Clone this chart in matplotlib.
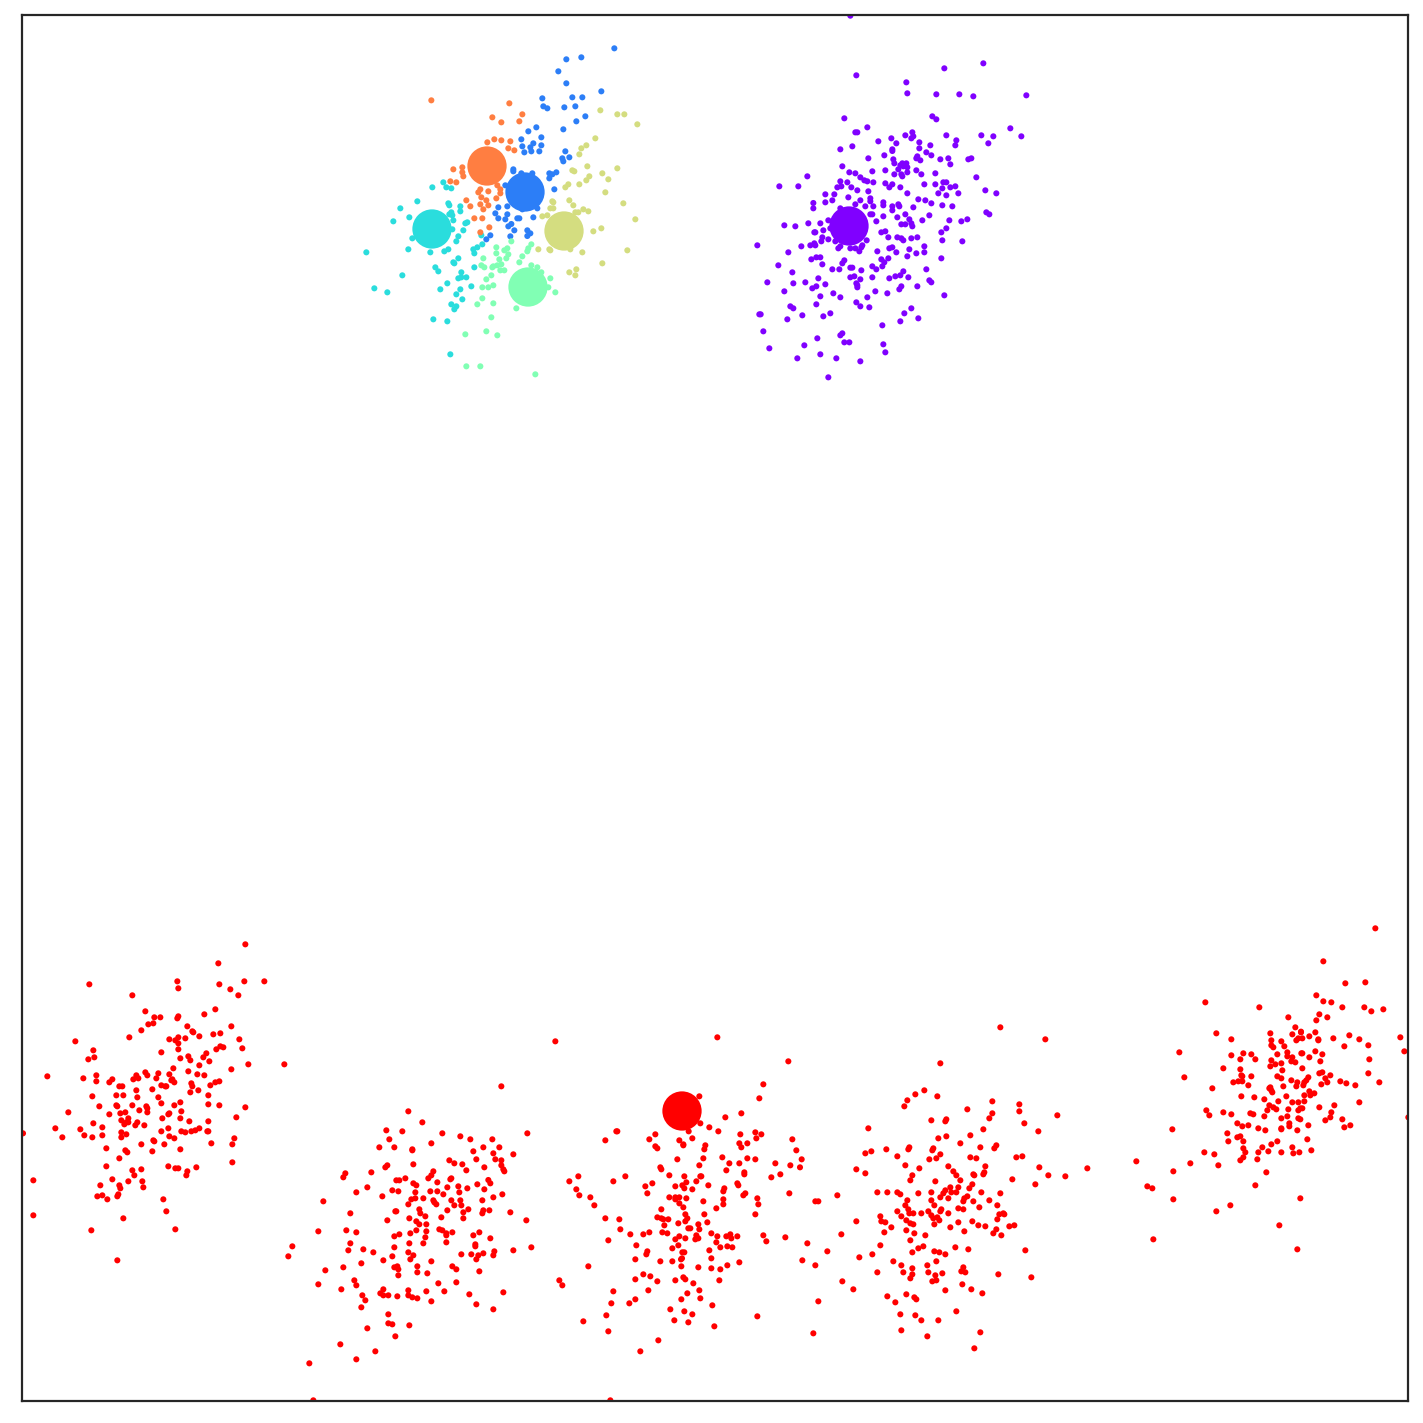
import numpy as np
import matplotlib
matplotlib.use('Agg')
import matplotlib.pyplot as plt

# points, per region as (x, y) at 3x of that region
blue_pts = [(793,55),(649,88),(694,82),(625,124),(649,160),(754,184),(577,205),(667,202),(697,202),(580,229),(592,235),(643,232),(676,229),(706,259),(679,274),(640,298),(559,292),(535,304),(514,328),(574,322),(517,349),(550,340),(541,352),(574,346),(523,367),(544,364),(568,364),(646,364),(658,382),(637,385),(640,394),(490,418),(490,424),(598,430),(619,427),(607,433),(598,445),(613,478),(466,466),(514,430),(547,430),(445,532),(472,529),(436,550),(445,565),(472,553),(466,568),(502,565),(508,565),(550,562),(562,535),(517,538),(484,582),(475,589),(493,601),(532,601),(541,610),(532,618),(481,619),(421,616),(409,628)]
orange_pts = [(244,211),(478,220),(517,253),(427,262),(454,277),(508,274),(412,337),(433,328),(454,331),(481,334),(475,355),(493,361),(310,418),(337,412),(337,427),(340,439),(301,454),(319,457),(442,466),(391,478),(385,487),(415,484),(451,478),(451,490),(394,502),(409,511),(439,505),(349,511),(361,529),(391,523),(415,526),(400,538),(373,565),(397,565),(418,592),(391,607)]
cyan_pts = [(247,472),(280,457),(289,472),(304,475),(202,514),(151,535),(178,562),(130,574),(295,520),(298,526),(331,529),(331,544),(304,547),(298,553),(307,556),(310,571),(352,577),(346,580),(340,601),(307,598),(325,619),(319,634),(187,625),(175,658),(241,667),(283,664),(295,658),(49,667),(397,643),(382,652),(370,658),(373,670),(325,685),(310,697),(313,700),(256,712),(265,724),(373,712),(334,727),(334,742),(325,745),(349,742),(157,736),(73,775),(112,787),(292,760),(271,778),(364,769),(331,778),(319,793),(337,808),(304,823),(319,829),(313,838),(250,868),(292,874),(301,973),(394,616)]
green_pts = [(484,634),(544,643),(439,652),(472,655),(463,661),(535,655),(532,664),(439,670),(475,673),(469,685),(517,679),(400,685),(448,688),(508,697),(442,706),(454,703),(430,709),(427,712),(394,706),(403,712),(451,721),(463,721),(544,706),(562,712),(574,727),(424,736),(409,748),(601,745),(397,772),(415,772),(430,766),(595,772),(616,787),(397,805),(382,823),(430,820),(499,835),(424,862),(409,904),(346,913),(442,916),(349,1009),(391,1009),(556,1033)]
yellow_pts = [(751,241),(802,253),(823,253),(862,283),(736,325),(709,346),(694,355),(688,373),(712,409),(802,415),(667,421),(673,424),(757,430),(718,439),(709,451),(775,448),(688,463),(655,463),(646,472),(766,487),(607,514),(610,517),(658,511),(670,526),(820,520),(601,535),(610,535),(700,538),(715,544),(676,547),(685,547),(592,556),(577,559),(856,568),(754,595),(730,604),(565,658),(598,658),(601,661),(661,658),(697,667),(832,661),(757,700),(679,718),(658,727),(676,736)]
purple_pts = [(331,17),(349,196),(730,160),(613,175),(499,217),(502,250),(589,253),(658,253),(700,259),(859,256),(313,325),(577,319),(589,328),(382,352),(346,367),(352,367),(811,355),(844,379),(724,376),(760,379),(517,367),(496,376),(514,385),(520,379),(454,385),(619,376),(415,394),(469,400),(538,397),(649,391),(646,406),(745,400),(571,406),(337,409),(301,418),(457,418),(457,423),(538,415),(559,427),(574,436),(433,436),(385,445),(460,448),(463,460),(529,445),(532,439),(541,451),(601,448),(625,445),(631,463),(685,448),(694,445),(487,460),(499,460),(481,466),(490,469),(502,472),(475,478),(307,469),(436,481),(397,484),(328,487),(346,490),(463,493),(484,493),(487,499),(502,487),(529,481),(544,493),(586,490),(202,499),(709,502),(361,502),(373,511),(382,514),(400,517),(301,514),(322,517),(436,520),(457,523),(448,532),(481,532),(553,523),(586,523),(610,517),(619,517),(646,529),(631,532),(607,535),(118,529),(175,529),(292,532),(304,529),(334,532),(352,541),(385,544),(502,550),(595,550),(619,556),(655,550),(736,541),(769,550),(256,553),(283,553),(325,562),(391,565),(391,574),(361,571),(277,571),(256,577),(220,579),(220,595),(346,583),(376,589),(400,589),(430,577),(430,586),(457,589),(475,583),(478,589),(535,568),(556,571),(574,580),(607,586),(637,589),(520,592),(457,601),(301,595),(391,613),(397,613),(496,613),(472,622),(430,619),(568,616),(739,607),(748,613),(508,628),(547,631),(628,631),(664,634),(682,628),(265,631),(241,640),(205,640),(133,646),(166,649),(409,634),(484,643),(496,643),(514,640),(517,649),(619,655),(604,667),(250,661),(271,655),(223,667),(226,667),(424,667),(436,664),(445,682),(472,682),(484,685),(490,691),(514,685),(532,682),(607,691),(667,694),(247,682),(244,694),(265,688),(286,694),(380,691),(52,706),(184,709),(211,706),(223,700),(226,706),(295,715),(301,709),(331,715),(346,715),(358,724),(367,706),(364,712),(412,724),(448,715),(457,712),(469,727),(508,718),(529,730),(553,709),(553,727),(145,727),(214,748),(229,742),(241,742),(502,739),(604,745),(445,745),(424,748),(433,757),(313,751),(307,760),(247,763),(115,766),(427,769),(397,769),(409,778),(277,778),(298,778),(331,773),(337,773),(364,781),(559,778),(157,787),(490,784),(481,796),(466,799),(448,805),(505,802),(397,802),(331,802),(343,799),(361,808),(235,805),(196,817),(82,817),(160,820),(256,823),(229,829),(217,835),(349,820),(352,826),(352,832),(568,811),(574,817),(532,829),(484,829),(478,838),(133,844),(406,844),(442,850),(280,850),(241,859),(301,862),(382,862),(613,856),(349,877),(229,883),(361,889),(388,892),(151,889),(160,895),(514,895),(493,910),(58,913),(62,913),(187,916),(271,910),(250,919),(142,928),(535,925),(481,934),(427,946),(70,964),(307,970),(301,976),(232,985),(313,997),(328,997),(88,1015),(193,1006),(430,1003),(436,1027),(241,1033),(172,1045),(289,1045),(361,1054),(265,1102)]
red_a = [(691,43),(610,100),(223,163),(487,154),(490,175),(613,163),(688,154),(748,154),(646,178),(670,196),(352,196),(391,244),(601,238),(568,253),(418,262),(436,262),(490,259),(487,265),(400,283),(415,280),(517,289),(649,289),(379,301),(532,304),(535,307),(595,313),(616,310),(553,319),(343,322),(463,328),(490,322),(481,331),(490,340),(511,325),(673,328),(181,334),(235,361),(490,358),(604,358),(616,349),(625,352),(682,355),(439,367),(574,370),(238,382),(220,388),(496,385),(520,379),(526,391),(565,382),(583,394),(553,406),(700,403),(808,403),(475,415),(649,418),(520,424),(391,427),(397,436),(430,430),(463,433),(547,433),(568,436),(97,439),(205,445),(244,436),(244,454),(364,436),(355,448),(370,445),(424,445),(292,448),(283,457),(469,451),(472,448),(478,457),(529,460),(532,469),(586,466),(601,457),(613,454),(313,469),(322,469),(439,466),(451,469),(454,469),(364,481),(412,478),(550,481),(526,487),(304,496),(325,496),(367,502),(430,502),(232,499),(580,496),(439,520),(496,517),(580,523),(613,526),(691,532),(253,529),(304,526),(307,529),(352,526),(394,529),(397,535),(397,547),(478,526),(373,541),(499,544),(160,547),(283,553),(316,550),(331,547),(463,550),(460,553),(664,562),(340,565),(442,565),(496,565),(319,571),(334,577),(340,577),(328,583),(367,577),(361,586),(388,586),(235,580),(523,574),(580,574),(262,592),(121,595),(196,598),(460,595),(439,604),(499,604),(511,607),(529,604),(541,601),(553,595),(577,604),(580,604),(24,610),(319,607),(334,613),(208,616),(262,616),(142,622),(232,622),(319,622),(463,619),(478,625),(658,625),(415,631),(418,634),(379,643),(448,643),(589,640),(652,643),(274,655),(496,658),(331,661),(337,667),(412,664),(313,685),(652,697),(274,709),(460,709),(481,715),(490,715),(544,712),(352,721),(379,718),(517,724),(514,736),(358,736),(292,748),(340,754),(382,754),(55,751),(256,766),(313,766),(316,775),(385,772),(247,799),(262,796),(277,808),(310,793),(307,799),(445,808),(454,844),(55,856),(325,865),(229,901),(481,898),(307,991)]
red_b = [(664,19),(385,94),(427,127),(319,151),(367,154),(487,160),(742,160),(541,169),(571,178),(637,178),(328,178),(454,190),(298,202),(343,202),(397,208),(397,211),(610,202),(658,202),(580,214),(640,220),(700,223),(589,238),(646,238),(508,241),(664,241),(523,250),(547,253),(400,253),(664,256),(322,256),(316,262),(613,262),(670,268),(673,274),(559,271),(460,274),(274,277),(196,280),(190,292),(454,286),(445,295),(376,295),(514,295),(511,298),(349,301),(358,301),(625,300),(631,310),(472,307),(400,310),(409,316),(592,313),(262,322),(502,322),(535,319),(562,325),(613,328),(337,331),(355,334),(229,337),(406,337),(451,334),(472,334),(490,343),(538,337),(667,343),(307,349),(640,352),(394,358),(406,355),(430,355),(460,361),(514,361),(541,361),(607,361),(130,364),(463,367),(469,373),(385,373),(523,376),(544,376),(565,388),(418,388),(502,391),(610,391),(628,391),(421,400),(607,400),(550,397),(691,397),(211,400),(346,394),(349,394),(436,409),(388,415),(484,412),(550,415),(322,421),(739,421),(409,424),(418,433),(439,433),(199,451),(115,454),(229,457),(409,451),(439,454),(478,448),(487,451),(517,457),(598,457),(499,460),(499,466),(391,460),(358,463),(343,469),(436,472),(580,466),(631,475),(211,490),(388,490),(430,490),(499,487),(586,493),(586,499),(343,502),(37,499),(250,508),(205,511),(700,511),(754,502),(643,514),(640,526),(280,517),(385,517),(544,523),(574,523),(595,526),(610,520),(400,526),(25,529),(337,529),(589,538),(310,541),(391,538),(454,544),(244,550),(190,562),(343,562),(352,559),(355,568),(412,559),(517,559),(529,568),(136,571),(598,574),(412,577),(442,580),(355,586),(223,601),(475,610),(529,607),(115,613),(229,616),(184,628),(310,628),(385,631),(439,634),(493,634),(670,637),(301,640),(310,646),(325,646),(247,646),(352,649),(385,646),(397,652),(412,655),(568,643),(256,661),(454,664),(589,673),(244,682),(640,688),(325,703),(325,730),(337,733),(388,736),(262,745),(346,769),(181,793),(286,814),(229,838),(88,850),(100,961)]
red_c = [(31,34),(517,22),(730,94),(655,163),(643,205),(463,199),(589,250),(541,262),(466,280),(493,292),(431,304),(520,304),(214,304),(217,304),(181,331),(331,313),(313,328),(403,331),(442,325),(586,313),(631,307),(649,313),(634,325),(742,328),(415,343),(415,346),(481,346),(478,358),(583,340),(607,340),(589,352),(331,349),(337,355),(754,361),(397,388),(475,385),(532,382),(607,385),(631,388),(553,400),(583,400),(691,400),(736,406),(463,406),(346,412),(349,418),(544,421),(598,427),(598,433),(373,436),(418,439),(466,439),(469,439),(706,433),(679,442),(100,439),(241,439),(73,454),(205,454),(424,457),(454,454),(322,460),(301,469),(391,469),(412,466),(490,466),(577,460),(580,466),(418,475),(442,478),(538,475),(535,484),(94,478),(307,490),(601,490),(595,496),(733,490),(103,496),(136,502),(373,502),(391,502),(391,508),(403,502),(424,505),(535,508),(637,505),(403,520),(475,514),(535,523),(640,523),(148,526),(415,532),(514,535),(349,538),(421,553),(478,553),(631,553),(337,562),(349,565),(355,568),(370,568),(427,565),(421,574),(181,565),(223,568),(400,580),(487,577),(358,586),(460,583),(430,595),(436,595),(463,598),(226,598),(313,607),(352,607),(367,610),(256,613),(295,613),(499,610),(454,616),(403,619),(391,628),(421,625),(451,628),(460,625),(517,619),(544,619),(556,613),(559,625),(577,619),(655,616),(721,622),(190,631),(514,637),(664,634),(274,646),(400,646),(526,652),(547,649),(562,652),(382,655),(493,661),(307,664),(304,673),(412,667),(418,667),(271,688),(499,685),(411,685),(408,688),(346,694),(382,694),(583,697),(130,709),(409,709),(460,712),(499,715),(526,718),(547,706),(295,733),(316,739),(271,748),(415,742),(421,748),(391,751),(337,754),(523,751),(43,751),(445,760),(52,766),(310,781),(463,781),(205,784),(427,790),(271,808),(409,808),(466,805),(199,820),(253,820),(502,826),(376,838),(418,844),(442,853),(184,856),(637,859),(115,874),(388,871),(430,877),(508,889),(190,904),(340,931),(286,964),(196,1111)]
red_d = [(601,22),(736,58),(421,130),(373,211),(346,223),(412,229),(322,241),(577,244),(658,253),(313,259),(502,268),(658,274),(577,280),(772,286),(568,295),(394,301),(439,298),(436,304),(673,310),(205,325),(550,328),(715,334),(511,346),(439,349),(415,355),(481,370),(589,376),(583,385),(541,382),(328,382),(325,388),(400,385),(397,391),(259,388),(196,400),(214,394),(421,403),(292,409),(409,415),(388,418),(511,412),(529,415),(649,412),(667,409),(5,418),(316,436),(445,439),(556,439),(718,442),(0,442),(358,445),(169,448),(460,454),(196,460),(337,466),(469,466),(520,463),(523,466),(553,457),(550,463),(745,466),(796,469),(862,445),(331,481),(481,481),(637,478),(406,484),(517,493),(706,493),(451,502),(475,502),(508,505),(436,511),(430,520),(232,517),(262,517),(292,517),(301,523),(355,520),(394,517),(454,517),(469,517),(544,517),(601,520),(421,532),(445,535),(502,529),(112,526),(322,541),(394,541),(493,535),(490,544),(520,544),(568,541),(46,544),(55,544),(316,556),(403,556),(592,556),(325,568),(424,568),(475,565),(490,568),(538,562),(292,574),(328,580),(340,580),(364,580),(385,574),(421,574),(445,580),(598,583),(613,583),(610,580),(241,589),(304,589),(394,586),(400,595),(412,592),(592,598),(418,601),(244,604),(256,607),(319,601),(331,610),(340,613),(169,604),(475,607),(517,604),(403,613),(535,616),(556,619),(628,619),(643,616),(274,622),(451,622),(319,631),(589,628),(493,634),(253,637),(343,640),(580,640),(604,646),(124,643),(376,646),(331,661),(22,670),(241,676),(370,679),(355,685),(466,682),(505,688),(403,694),(418,697),(337,697),(436,703),(676,691),(82,694),(217,703),(178,712),(7,721),(280,724),(409,724),(46,736),(304,736),(382,736),(490,742),(337,745),(232,757),(310,757),(385,757),(427,760),(484,754),(496,757),(337,763),(406,766),(331,775),(595,763),(694,772),(127,784),(397,784),(409,781),(487,793),(160,808),(436,811),(514,808),(547,820),(262,829),(319,823),(343,832),(349,838),(286,847),(55,844),(301,883),(346,886),(469,874),(364,901),(415,901),(304,931),(541,937),(40,940),(382,949),(523,985)]
red_e = [(736,25),(580,124),(646,190),(706,187),(559,226),(226,247),(580,244),(604,247),(388,262),(637,262),(703,262),(724,274),(760,268),(568,283),(592,292),(475,292),(559,301),(496,322),(421,340),(259,340),(487,343),(513,335),(513,337),(556,337),(538,349),(658,346),(304,358),(424,361),(454,364),(499,361),(505,355),(517,355),(565,358),(565,361),(610,355),(688,358),(811,352),(424,376),(430,382),(463,379),(643,379),(715,376),(148,397),(340,400),(364,403),(304,406),(442,403),(472,397),(472,409),(514,400),(517,400),(556,394),(577,403),(823,394),(331,418),(376,418),(424,421),(487,412),(484,424),(496,427),(538,412),(571,424),(718,418),(436,433),(454,430),(421,439),(280,445),(331,448),(517,445),(457,451),(568,460),(577,457),(601,466),(715,460),(334,466),(337,469),(364,469),(442,469),(454,475),(535,472),(163,472),(586,475),(310,487),(325,484),(337,484),(484,481),(529,481),(523,487),(592,487),(631,484),(649,490),(676,496),(748,487),(355,496),(502,487),(499,499),(520,496),(574,493),(460,499),(247,505),(418,505),(421,502),(424,511),(427,517),(538,514),(541,526),(553,520),(334,529),(373,532),(469,529),(523,526),(403,538),(445,544),(487,547),(505,547),(523,544),(688,547),(418,556),(430,562),(439,568),(568,562),(613,556),(412,571),(475,568),(505,571),(511,565),(517,565),(229,571),(280,577),(304,583),(361,580),(370,583),(604,577),(238,586),(403,589),(472,589),(454,595),(505,595),(511,598),(601,592),(586,601),(637,598),(835,592),(322,610),(337,619),(355,616),(478,610),(478,619),(535,616),(661,616),(643,622),(385,625),(406,631),(454,625),(454,628),(502,631),(127,628),(292,640),(322,652),(331,649),(295,664),(340,664),(442,664),(532,658),(424,673),(397,682),(340,685),(487,682),(544,691),(223,697),(253,703),(346,697),(385,697),(415,694),(454,697),(490,700),(508,697),(340,712),(331,721),(382,718),(19,724),(181,730),(265,736),(130,754),(409,757),(376,796),(52,799),(67,805),(130,838),(511,835),(301,856),(259,874),(448,916),(70,958),(502,988)]

# cluster centres, one per colour
center_x = [849, 525, 432, 528, 564, 487, 682]
center_y = [226, 192, 229, 287, 231, 166, 1111]

def to_plot(pts, x0, y0):
    a = np.array(pts, dtype=float)
    return a[:, 0] / 3 + x0, a[:, 1] / 3 + y0

groups = [
    (0, purple_pts, 740, 10),
    (1, blue_pts, 350, 30),
    (2, cyan_pts, 350, 30),
    (3, green_pts, 350, 30),
    (4, yellow_pts, 350, 30),
    (5, orange_pts, 350, 30),
    (6, red_a, 15, 930),
    (6, red_b, 280, 1080),
    (6, red_c, 545, 1030),
    (6, red_d, 800, 1020),
    (6, red_e, 1130, 920),
]

fig = plt.figure(figsize=(1423 / 200, 1423 / 200), dpi=200)
ax = fig.add_axes([22 / 1423, 1 - 1401 / 1423, 1386 / 1423, 1386 / 1423])

for label, pts, x0, y0 in groups:
    xs, ys = to_plot(pts, x0, y0)
    ax.scatter(xs, ys, c=[label] * len(xs), cmap='rainbow', vmin=0, vmax=6, s=4.8, linewidths=0)

ax.scatter(center_x, center_y, c=range(7), cmap='rainbow', vmin=0, vmax=6, s=200, linewidths=0)

ax.set_xlim(22, 1408)
ax.set_ylim(1401, 15)
ax.set_xticks([])
ax.set_yticks([])
for s in ax.spines.values():
    s.set_color('#262626')
    s.set_linewidth(0.8)

fig.savefig('out.png', dpi=200)
